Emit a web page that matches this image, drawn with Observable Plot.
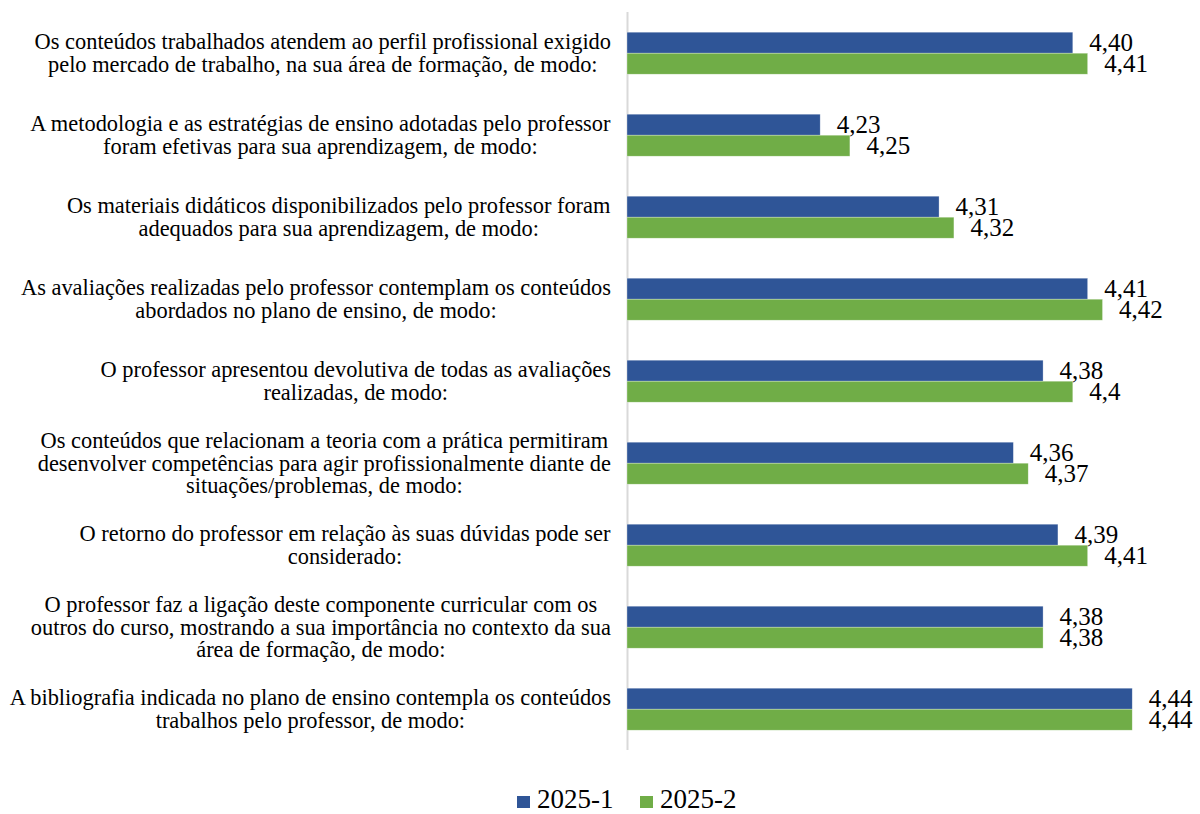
<!DOCTYPE html>
<html>
<head>
<meta charset="utf-8">
<script src="https://cdn.jsdelivr.net/npm/d3@7"></script>
<script src="https://cdn.jsdelivr.net/npm/@observablehq/plot@0.6"></script>
<style>
  html, body { margin: 0; padding: 0; background: #fff; }
  body { position: relative; width: 1200px; height: 814px; overflow: hidden; font-family: 'Liberation Serif', 'Times New Roman', serif; }
  #legend { position: absolute; left: 0; top: 0; width: 1200px; height: 814px; pointer-events: none; }
  #legend .sw { position: absolute; top: 796px; width: 13px; height: 12px; }
  #legend .tx { position: absolute; top: 788.5px; font-size: 27px; line-height: 20px; height: 20px; color: #000; white-space: nowrap; }
</style>
</head>
<body>
<div id="chart"></div>
<div id="legend"></div>
<script>
const categories = [
  "Os conteúdos trabalhados atendem ao perfil profissional exigido\npelo mercado de trabalho, na sua área de formação, de modo:",
  "A metodologia e as estratégias de ensino adotadas pelo professor\nforam efetivas para sua aprendizagem, de modo:",
  "Os materiais didáticos disponibilizados pelo professor foram\nadequados para sua aprendizagem, de modo:",
  "As avaliações realizadas pelo professor contemplam os conteúdos\nabordados no plano de ensino, de modo:",
  "O professor apresentou devolutiva de todas as avaliações\nrealizadas, de modo:",
  "Os conteúdos que relacionam a teoria com a prática permitiram\ndesenvolver competências para agir profissionalmente diante de\nsituações/problemas, de modo:",
  "O retorno do professor em relação às suas dúvidas pode ser\nconsiderado:",
  "O professor faz a ligação deste componente curricular com os\noutros do curso, mostrando a sua importância no contexto da sua\nárea de formação, de modo:",
  "A bibliografia indicada no plano de ensino contempla os conteúdos\ntrabalhos pelo professor, de modo:"
];
const series = ["2025-1", "2025-2"];
const colors = ["#2F5597", "#70AD47"];
const values2025_1 = [4.40, 4.23, 4.31, 4.41, 4.38, 4.36, 4.39, 4.38, 4.44];
const values2025_2 = [4.41, 4.25, 4.32, 4.42, 4.40, 4.37, 4.41, 4.38, 4.44];
const labels2025_1 = ["4,40", "4,23", "4,31", "4,41", "4,38", "4,36", "4,39", "4,38", "4,44"];
const labels2025_2 = ["4,41", "4,25", "4,32", "4,42", "4,4", "4,37", "4,41", "4,38", "4,44"];
const axisMin = 4.1;
const axisMax = 4.4856;

const rows = [];
categories.forEach((c, i) => {
  rows.push({category: c, series: series[0], value: values2025_1[i], label: labels2025_1[i], base: axisMin});
  rows.push({category: c, series: series[1], value: values2025_2[i], label: labels2025_2[i], base: axisMin});
});
const catRows = categories.map(c => ({category: c}));

const fontFamily = "'Liberation Serif', 'Times New Roman', serif";

const chart = Plot.plot({
  width: 1200,
  height: 765,
  marginLeft: 627,
  marginRight: 0,
  marginTop: 9.8,
  marginBottom: 13.1,
  style: {fontFamily, background: "#fff", color: "#000", overflow: "visible"},
  x: {domain: [axisMin, axisMax], axis: null},
  fy: {domain: categories, padding: 0, axis: null},
  y: {domain: series, paddingInner: 0, paddingOuter: 0.9, axis: null},
  color: {domain: series, range: colors},
  marks: [
    Plot.ruleX([axisMin], {stroke: "#d9d9d9", strokeWidth: 2}),
    Plot.barX(rows, {fy: "category", y: "series", x1: "base", x2: "value", fill: "series", stroke: "#ffffff", strokeOpacity: 0.5, strokeWidth: 0.6}),
    Plot.text(rows, {fy: "category", y: "series", x: "value", text: "label", textAnchor: "start", dx: 16, fontSize: 25, fill: "#000"}),
    Plot.text(catRows, {fy: "category", text: "category", frameAnchor: "left", textAnchor: "middle", lineAnchor: "middle", lineHeight: 1.0, fontSize: 22.4, fill: "#000", className: "catlabel"})
  ]
});

document.getElementById("chart").appendChild(chart);

// center each label's lines and right-align the block against the axis
const svgRect = chart.getBoundingClientRect();
chart.querySelectorAll(".catlabel text").forEach(t => {
  const r = t.getBoundingClientRect();
  const right = r.right - svgRect.left;
  const shift = 611 - right;
  const g = document.createElementNS("http://www.w3.org/2000/svg", "g");
  g.setAttribute("transform", `translate(${shift},0)`);
  t.parentNode.insertBefore(g, t);
  g.appendChild(t);
});

// legend
const legend = document.getElementById("legend");
const legendLeft = [517, 640];
series.forEach((s, i) => {
  const sw = document.createElement("div");
  sw.className = "sw";
  sw.style.left = legendLeft[i] + "px";
  sw.style.background = colors[i];
  const tx = document.createElement("div");
  tx.className = "tx";
  tx.style.left = (legendLeft[i] + 20) + "px";
  tx.textContent = s;
  legend.appendChild(sw);
  legend.appendChild(tx);
});
</script>
</body>
</html>
